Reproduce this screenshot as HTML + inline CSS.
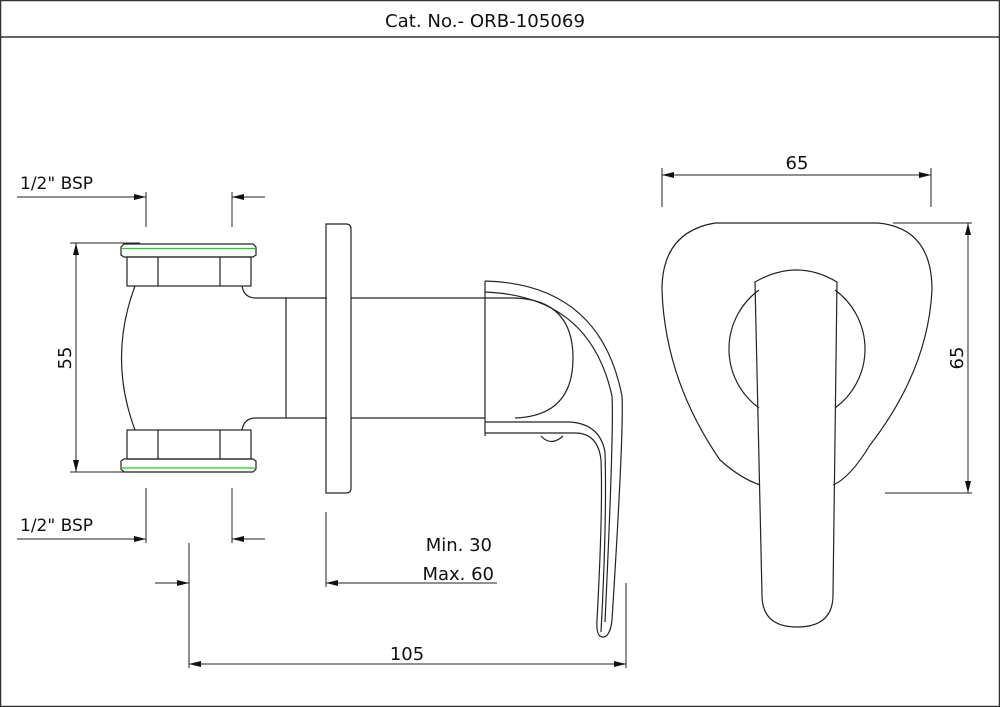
<!DOCTYPE html>
<html><head><meta charset="utf-8"><style>
html,body{margin:0;padding:0;background:#fff}
svg{display:block}
text{font-family:"DejaVu Sans","Liberation Sans",sans-serif;fill:#111}
</style></head><body>
<svg width="1000" height="707" viewBox="0 0 1000 707" xmlns="http://www.w3.org/2000/svg">
<defs>
<marker id="a" viewBox="0 0 12 6" refX="12" refY="3" markerWidth="12" markerHeight="6" orient="auto-start-reverse" markerUnits="userSpaceOnUse"><path d="M0,0 L12,3 L0,6 z" fill="#111"/></marker>
</defs>
<rect x="0.5" y="0.5" width="999" height="706" fill="none" stroke="#333" stroke-width="1.5"/>
<line x1="0" y1="37" x2="1000" y2="37" stroke="#333" stroke-width="1.5"/>
<text x="485" y="27" font-size="18" text-anchor="middle" textLength="200" lengthAdjust="spacingAndGlyphs">Cat. No.- ORB-105069</text>

<g fill="none" stroke="#222" stroke-width="1.2">
<!-- left view nuts -->
<path d="M124,244 H253 L256,247 V255 L253,257 H124 L121,255 V247 Z"/>
<rect x="127" y="257" width="124" height="29"/>
<line x1="158" y1="257" x2="158" y2="286"/><line x1="220" y1="257" x2="220" y2="286"/>
<rect x="127" y="430" width="124" height="29"/>
<line x1="158" y1="430" x2="158" y2="459"/><line x1="220" y1="430" x2="220" y2="459"/>
<path d="M124,459 H253 L256,461 V469 L253,472 H124 L121,469 V461 Z"/>
<path d="M135,286 Q108,358 135,430"/>
<path d="M242,286 Q244,298 256,298 H327"/>
<path d="M242,430 Q244,418 256,418 H327"/>
<line x1="286" y1="298" x2="286" y2="418"/>
<path d="M326,224 H346 Q351,224 351,229 V488 Q351,493 346,493 H326 Z"/>
<line x1="351" y1="298" x2="485" y2="298"/><line x1="351" y1="418" x2="485" y2="418"/>
<!-- handle side -->
<path d="M485,281 V436"/>
<path d="M485,281 Q600,284 622,396 Q624,430 612,620 Q610,638 602,637 Q596,636 597,620 Q603,510 601,460 Q598,433 575,433 H485"/>
<path d="M485,292 Q590,296 612,396 Q614,430 605,622"/>
<path d="M485,422 H570 Q600,424 605,452 Q607,520 601,632"/>
<path d="M485,298 H515 Q573,300 573,358 Q573,416 515,418"/>
<path d="M541,436 Q551,447 563,436"/>
<!-- front view -->
<path d="M715,223 H878 Q932,228 932,290 Q928,370 870,445 Q850,478 833,485 M760,485 Q740,478 720,460 Q665,380 662,290 Q662,232 715,223"/>
<path d="M759,290 A73,73 0 0 0 759,408 M835,290 A73,73 0 0 1 835,408"/>
<path d="M755,282 Q797,258 837,282 L833,595 Q833,627 797,627 Q762,627 762,595 Z"/>
</g>
<g fill="#fff" stroke="none"></g>
<!-- green lines -->
<line x1="122" y1="248.5" x2="255" y2="248.5" stroke="#2c2" stroke-width="1.3"/>
<line x1="122" y1="468" x2="255" y2="468" stroke="#2c2" stroke-width="1.3"/>

<g stroke="#222" stroke-width="1" fill="none">
<!-- BSP top -->
<line x1="17" y1="197" x2="146" y2="197" marker-end="url(#a)"/>
<line x1="146" y1="192" x2="146" y2="227"/>
<line x1="232" y1="192" x2="232" y2="227"/>
<line x1="265" y1="197" x2="232" y2="197" marker-end="url(#a)"/>
<!-- BSP bottom -->
<line x1="17" y1="539" x2="146" y2="539" marker-end="url(#a)"/>
<line x1="146" y1="488" x2="146" y2="543"/>
<line x1="232" y1="488" x2="232" y2="543"/>
<line x1="265" y1="539" x2="232" y2="539" marker-end="url(#a)"/>
<!-- 55 -->
<line x1="70" y1="243" x2="140" y2="243"/>
<line x1="70" y1="472" x2="140" y2="472"/>
<line x1="76" y1="243" x2="76" y2="472" marker-start="url(#a)" marker-end="url(#a)"/>
<!-- min/max -->
<line x1="326" y1="512" x2="326" y2="587"/>
<line x1="497" y1="583" x2="326" y2="583" marker-end="url(#a)"/>
<!-- 105 -->
<line x1="155" y1="583" x2="189" y2="583" marker-end="url(#a)"/>
<line x1="189" y1="543" x2="189" y2="668"/>
<line x1="626" y1="583" x2="626" y2="668"/>
<line x1="189" y1="664" x2="626" y2="664" marker-start="url(#a)" marker-end="url(#a)"/>
<!-- 65 top -->
<line x1="662" y1="168" x2="662" y2="207"/>
<line x1="931" y1="168" x2="931" y2="207"/>
<line x1="662" y1="175" x2="931" y2="175" marker-start="url(#a)" marker-end="url(#a)"/>
<!-- 65 right -->
<line x1="893" y1="223" x2="972" y2="223"/>
<line x1="885" y1="493" x2="972" y2="493"/>
<line x1="968" y1="223" x2="968" y2="493" marker-start="url(#a)" marker-end="url(#a)"/>
</g>
<text x="20" y="189" font-size="17">1/2" BSP</text>
<text x="20" y="531" font-size="17">1/2" BSP</text>
<text x="0" y="0" font-size="18" transform="translate(71,358) rotate(-90)" text-anchor="middle">55</text>
<text x="0" y="0" font-size="18" transform="translate(963,358) rotate(-90)" text-anchor="middle">65</text>
<text x="797" y="169" font-size="18" text-anchor="middle">65</text>
<text x="492" y="551" font-size="18" text-anchor="end">Min. 30</text>
<text x="494" y="580" font-size="18" text-anchor="end">Max. 60</text>
<text x="407" y="660" font-size="18" text-anchor="middle">105</text>
</svg>
</body></html>
